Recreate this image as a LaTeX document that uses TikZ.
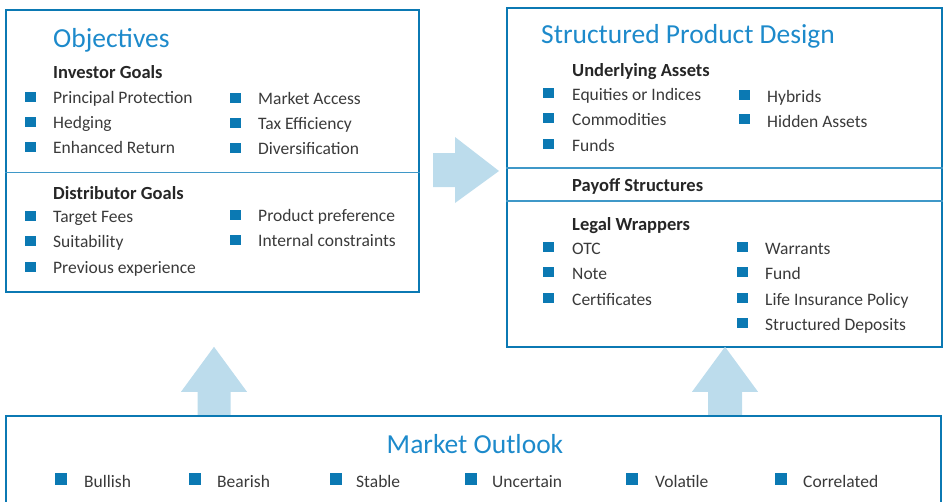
\documentclass[tikz,border=0pt]{standalone}
\usepackage{fontspec}
\setmainfont{Carlito}
\usetikzlibrary{positioning}

\definecolor{frameblue}{HTML}{0B79B3}
\definecolor{lineblue}{HTML}{3F98C8}
\definecolor{titleblue}{HTML}{1D8ACB}
\definecolor{flowblue}{HTML}{BCDCEC}
\definecolor{textgrey}{HTML}{3A3A3A}

\begin{document}
\begin{tikzpicture}[x=1pt,y=-1pt,
		box/.style={draw=frameblue,line width=2.4pt,inner sep=0pt},
		divider/.style={draw=lineblue,line width=1.6pt},
		flow/.style={fill=flowblue},
		title/.style={text=titleblue,font=\fontsize{27.5}{30}\selectfont,anchor=base west,inner sep=0pt},
		heading/.style={text=black!85,font=\bfseries\fontsize{18.5}{21}\selectfont,anchor=base west,inner sep=0pt},
		entry/.style={text=textgrey,font=\fontsize{17.5}{20}\selectfont,anchor=base west,inner sep=0pt},
		bullet/.style={fill=frameblue,minimum width=11pt,minimum height=10pt,inner sep=0pt}]

	\useasboundingbox (0,0) rectangle (945,501);

	% Frames
	\node[box,minimum width=413,minimum height=282] (obj) at (212.5,151) {};
	\node[box,minimum width=435,minimum height=339] (spd) at (724.5,177.5) {};
	\node[box,minimum width=935,minimum height=110] (mo) at (473.5,471) {};

	\draw[divider] (obj.west |- 0,172.5) -- (obj.east |- 0,172.5);
	\draw[divider] (spd.west |- 0,168) -- (spd.east |- 0,168);
	\draw[divider] (spd.west |- 0,201) -- (spd.east |- 0,201);

	% Objectives
	\node[title] (objtitle) at (53,47) {Objectives};
	\node[heading] (investor) at (53,78) {Investor Goals};
	\foreach \txt [count=\i] in {Principal Protection,Hedging,Enhanced Return} {
		\node[bullet] (ib\i) at (30.5,97+25*\i-25) {};
		\node[entry] (it\i) at (53,103+25*\i-25) {\txt};
	}
	\foreach \txt [count=\i] in {Market Access,Tax Efficiency,Diversification} {
		\node[bullet] (jb\i) at (235.5,97.5+25*\i-25) {};
		\node[entry] (jt\i) at (258,104+25*\i-25) {\txt};
	}

	\node[heading] (distributor) at (53,199) {Distributor Goals};
	\foreach \txt [count=\i] in {Target Fees,Suitability,Previous experience} {
		\node[bullet] (db\i) at (30.5,215.5+25.5*\i-25.5) {};
		\node[entry] (dt\i) at (53,222+25.5*\i-25.5) {\txt};
	}
	\foreach \txt [count=\i] in {Product preference,Internal constraints} {
		\node[bullet] (eb\i) at (235.5,214.5+25*\i-25) {};
		\node[entry] (et\i) at (258,221+25*\i-25) {\txt};
	}

	% Structured Product Design
	\node[title] (spdtitle) at (541,43) {Structured Product Design};
	\node[heading] (underlying) at (572,76) {Underlying Assets};
	\foreach \txt [count=\i] in {Equities or Indices,Commodities,Funds} {
		\node[bullet] (ub\i) at (548.5,92.5+25.5*\i-25.5) {};
		\node[entry] (ut\i) at (572,100+25.5*\i-25.5) {\txt};
	}
	\foreach \txt [count=\i] in {Hybrids,Hidden Assets} {
		\node[bullet] (vb\i) at (744,95+24*\i-24) {};
		\node[entry] (vt\i) at (767,102+25*\i-25) {\txt};
	}

	\node[heading] (payoff) at (572,191) {Payoff Structures};

	\node[heading] (legal) at (572,230) {Legal Wrappers};
	\foreach \txt [count=\i] in {OTC,Note,Certificates} {
		\node[bullet] (lb\i) at (548.5,247+25.25*\i-25.25) {};
		\node[entry] (lt\i) at (572,254+25.5*\i-25.5) {\txt};
	}
	\foreach \txt [count=\i] in {Warrants,Fund,Life Insurance Policy,Structured Deposits} {
		\node[bullet] (wb\i) at (742,247+25.25*\i-25.25) {};
		\node[entry] (wt\i) at (765,254+25.5*\i-25.5) {\txt};
	}

	% Market Outlook
	\node[title,anchor=base] (motitle) at (475,453) {Market Outlook};
	\foreach \bx/\tx/\txt [count=\i] in {61/84/Bullish,195/217/Bearish,335.5/356/Stable,
			471/492/Uncertain,632/655/Volatile,781/803/Correlated} {
		\node[bullet,minimum width=12pt,minimum height=12pt] (mb\i) at (\bx,479) {};
		\node[entry] (mt\i) at (\tx,487) {\txt};
	}

	% Block arrows
	\coordinate (flowright) at (433,170);
	\fill[flow] (flowright) ++(0,-17) -- ++(22,0) -- ++(0,-16) -- ++(44,34)
		-- ++(-44,32) -- ++(0,-16) -- ++(-22,0) -- cycle;

	\coordinate (flowleft) at (mo.north -| 214,0);
	\fill[flow] (flowleft) ++(-16.5,0) -- ++(0,-23) -- ++(-16.5,0) -- ++(33,-45)
		-- ++(33,45) -- ++(-16.5,0) -- ++(0,23) -- cycle;

	\coordinate (flowup) at (mo.north -| 725,0);
	\fill[flow] (flowup) ++(-17,0) -- ++(0,-23) -- ++(-16,0) -- ++(33,-45)
		-- ++(33,45) -- ++(-16,0) -- ++(0,23) -- cycle;
\end{tikzpicture}
\end{document}
